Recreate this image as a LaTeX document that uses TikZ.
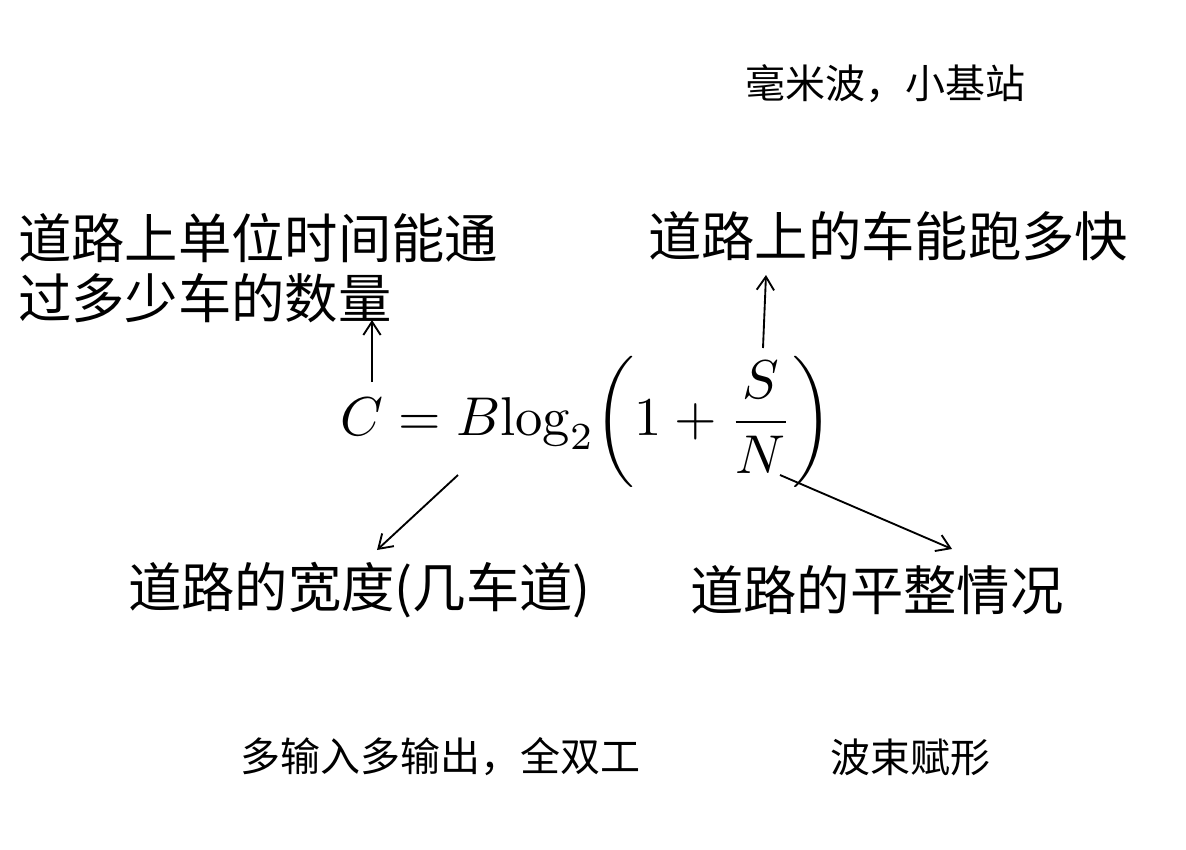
\documentclass[tikz,border=0pt]{standalone}
\usepackage{graphicx}
\usepackage{fontspec}
\newfontfamily\cjk{Noto Sans CJK SC}
\usetikzlibrary{arrows.meta}
\begin{document}
\begin{tikzpicture}[x=0.75pt,y=-0.75pt,
  big/.style={font=\cjk\fontsize{40}{45}\selectfont, inner sep=0pt, anchor=west, align=left},
  small/.style={font=\cjk\fontsize{30}{34}\selectfont, inner sep=0pt, anchor=west},
  arr/.style={line width=1.4pt, -{Straight Barb[length=10pt,width=13pt,line width=1.4pt]}}]
\useasboundingbox[fill=white] (0,0) rectangle (1186,850);
% small labels
\node[small] (mm) at (745,84) {毫米波，小基站};
\node[small] (mimo) at (240,757) {多输入多输出，全双工};
\node[small] (bf) at (830,757) {波束赋形};
% big labels
\node[big] (cap1) at (18,238) {道路上单位时间能通};
\node[big] (cap2) at (18,298) {过多少车的数量};
\node[big] (speed) at (648,236) {道路上的车能跑多快};
\node[big] (width) at (128,590) {道路的宽度(几车道)};
\node[big] (flat) at (690,590) {道路的平整情况};
% formula
\node[inner sep=0pt, anchor=west] (formula) at (340,422)
  {\resizebox{369pt}{!}{$\displaystyle C = B\mathrm{log}_2\!\left(1+\frac{S}{N}\right)$}};
% connector ends
\coordinate (c1) at (372,382);
\coordinate (t1) at (372,320);
\coordinate (c2) at (458,475);
\coordinate (t2) at (377,550);
\coordinate (c3) at (763,348);
\coordinate (t3) at (766,275);
\coordinate (c4) at (780,475);
\coordinate (t4) at (952,549);
\draw[arr] (c1) -- (t1);
\draw[arr] (c2) -- (t2);
\draw[arr] (c3) -- (t3);
\draw[arr] (c4) -- (t4);
\end{tikzpicture}
\end{document}
